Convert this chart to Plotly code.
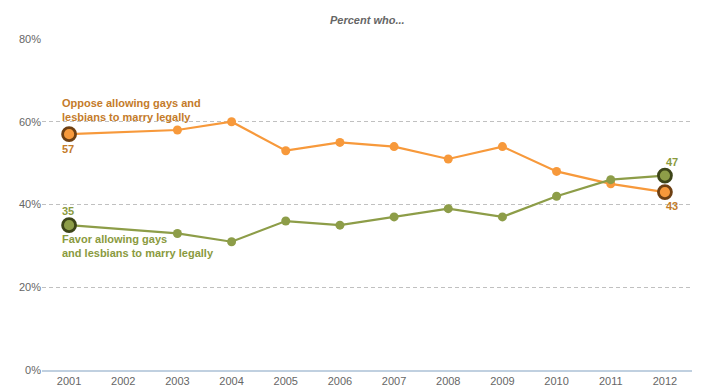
import plotly.graph_objects as go

years = [2001, 2003, 2004, 2005, 2006, 2007, 2008, 2009, 2010, 2011, 2012]
oppose = [57, 58, 60, 53, 55, 54, 51, 54, 48, 45, 43]
favor = [35, 33, 31, 36, 35, 37, 39, 37, 42, 46, 47]
x_ticks = list(range(2001, 2013))
y_ticks = [0, 20, 40, 60, 80]
y_tick_labels = ["0%", "20%", "40%", "60%", "80%"]

ORANGE = "#F7993B"
ORANGE_TXT = "#C47B2A"
ORANGE_DARK = "#6E4013"
GREEN = "#8D9D48"
GREEN_TXT = "#8A9A3E"
GREEN_DARK = "#3D4519"

fig = go.Figure()

for vals, col, dark in [(oppose, ORANGE, ORANGE_DARK), (favor, GREEN, GREEN_DARK)]:
    fig.add_trace(go.Scatter(
        x=years, y=vals, mode="lines+markers",
        line=dict(color=col, width=2.2),
        marker=dict(color=col, size=9),
        hoverinfo="x+y", showlegend=False))
    # highlighted end points
    fig.add_trace(go.Scatter(
        x=[years[0], years[-1]], y=[vals[0], vals[-1]], mode="markers",
        marker=dict(color=col, size=13, line=dict(color=dark, width=2.8)),
        hoverinfo="skip", showlegend=False))

font = "Liberation Sans, Arial, sans-serif"
ann = []
ann.append(dict(x=years[0], y=oppose[0], text="<b>Oppose allowing gays and<br>lesbians to marry legally</b>",
                xanchor="left", yanchor="bottom", xshift=-9, yshift=9, align="left",
                font=dict(color=ORANGE_TXT, size=11, family=font), showarrow=False))
ann.append(dict(x=years[0], y=oppose[0], text="<b>%d</b>" % oppose[0],
                xanchor="left", yanchor="top", xshift=-9, yshift=-7,
                font=dict(color=ORANGE_TXT, size=11, family=font), showarrow=False))
ann.append(dict(x=years[0], y=favor[0], text="<b>%d</b>" % favor[0],
                xanchor="left", yanchor="bottom", xshift=-9, yshift=6,
                font=dict(color=GREEN_TXT, size=11, family=font), showarrow=False))
ann.append(dict(x=years[0], y=favor[0], text="<b>Favor allowing gays<br>and lesbians to marry legally</b>",
                xanchor="left", yanchor="top", xshift=-9, yshift=-6, align="left",
                font=dict(color=GREEN_TXT, size=11, family=font), showarrow=False))
ann.append(dict(x=years[-1], y=favor[-1], text="<b>%d</b>" % favor[-1],
                xanchor="left", yanchor="bottom", xshift=-1, yshift=6,
                font=dict(color=GREEN_TXT, size=11, family=font), showarrow=False))
ann.append(dict(x=years[-1], y=oppose[-1], text="<b>%d</b>" % oppose[-1],
                xanchor="left", yanchor="top", xshift=-1, yshift=-6,
                font=dict(color=ORANGE_TXT, size=11, family=font), showarrow=False))
ann.append(dict(x=0.5, y=1.0, xref="paper", yref="paper", text="<b><i>Percent who...</i></b>",
                xanchor="center", yanchor="bottom", yshift=11,
                font=dict(color="#666666", size=11, family=font), showarrow=False))

# page body has an 8px default margin, so the figure is drawn 8px in from the corner
fig.update_layout(
    width=714, height=380,
    margin=dict(l=34, r=30, t=31, b=18),
    paper_bgcolor="white", plot_bgcolor="white",
    font=dict(family=font, color="#666666", size=11),
    annotations=ann,
    xaxis=dict(range=[2000.5, 2012.5], tickmode="array", tickvals=x_ticks,
               ticktext=[str(t) for t in x_ticks], showgrid=False, zeroline=False,
               showline=True, linecolor="#C0D0E0", linewidth=1.5, ticks="",
               automargin=False,
               tickfont=dict(size=11, color="#666666")),
    yaxis=dict(range=[0, 80], tickmode="array", tickvals=y_ticks, ticktext=y_tick_labels,
               showgrid=True, gridcolor="#C0C0C0", griddash="4px,3px", gridwidth=1,
               zeroline=False, showline=False, ticks="", automargin=False,
               tickfont=dict(size=11, color="#666666")),
)

fig.write_html("out.html")
